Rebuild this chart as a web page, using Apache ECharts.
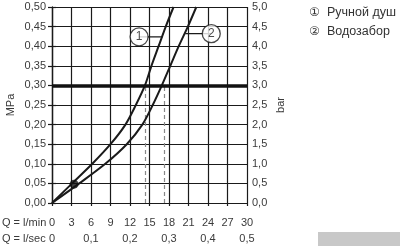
<!DOCTYPE html>
<html><head><meta charset="utf-8">
<script src="https://cdn.jsdelivr.net/npm/echarts@6/dist/echarts.min.js"></script>
<style>html,body{margin:0;padding:0;background:#fff}#c{width:400px;height:246px}</style>
</head><body><div id="c"></div>
<script>
// ---- data ----
const pressureLevels = [0, 0.05, 0.10, 0.15, 0.20, 0.25, 0.30, 0.35, 0.40, 0.45, 0.50];
const curve1Flow = [0, 3.1, 6.2, 9.0, 11.3, 12.9, 14.3, 15.3, 16.4, 17.5, 18.7];
const curve2Flow = [0, 4.2, 8.2, 11.5, 13.9, 15.5, 16.9, 18.2, 19.5, 20.9, 22.2];
const referencePressure = 0.30;
const referenceFlows = [14.4, 17.2];
const markerPoint = [3.4, 0.048];
const curveTags = ['1', '2'];
const tagFlows = [13.4, 24.5];
const tagPressures = [0.424, 0.432];
const leaderFlows = [17.0, 20.5];
const legendSymbols = ['①', '②'];
const legendItems = ['Ручной душ', 'Водозабор'];
const rowTitles = ['Q = l/min', 'Q = l/sec'];

const FONT = 'Liberation Sans';
const TXT = '#3a3a3a';
const LINE = '#1a1a1a';
const comma = (v, d) => v.toFixed(d).replace('.', ',');

const chart = echarts.init(document.getElementById('c'), null, {renderer: 'canvas'});

const series = [
  {
    type: 'line', xAxisIndex: 0, yAxisIndex: 0, smooth: 0.3, symbol: 'none', z: 3,
    lineStyle: {color: LINE, width: 2},
    data: curve1Flow.map((q, i) => [q, pressureLevels[i]]),
    markLine: {
      silent: true, symbol: 'none', label: {show: false}, z: 2,
      lineStyle: {color: '#888', width: 1.2, type: [4, 3]},
      data: referenceFlows.map(q => [{coord: [q, 0]}, {coord: [q, referencePressure]}])
    }
  },
  {
    type: 'line', xAxisIndex: 0, yAxisIndex: 0, smooth: 0.3, symbol: 'none', z: 3,
    lineStyle: {color: LINE, width: 2},
    data: curve2Flow.map((q, i) => [q, pressureLevels[i]]),
    markLine: {
      silent: true, symbol: 'none', label: {show: false}, z: 4,
      lineStyle: {color: '#111', width: 3.5, type: 'solid'},
      data: [{yAxis: referencePressure}]
    }
  }
];
// leader lines
tagFlows.forEach((q, i) => {
  series.push({
    type: 'line', xAxisIndex: 0, yAxisIndex: 0, symbol: 'none', z: 3,
    lineStyle: {color: LINE, width: 1.2},
    data: [[q, tagPressures[i]], [leaderFlows[i], tagPressures[i]]]
  });
});
// tag circles
series.push({
  type: 'scatter', xAxisIndex: 0, yAxisIndex: 0, symbol: 'circle', symbolSize: 18, z: 6,
  itemStyle: {color: '#fff', borderColor: LINE, borderWidth: 1.3},
  label: {show: true, position: 'inside', formatter: p => curveTags[p.dataIndex],
          color: '#222', fontSize: 12, fontFamily: FONT},
  data: tagFlows.map((q, i) => [q, tagPressures[i]])
});
// marker dot
series.push({
  type: 'scatter', xAxisIndex: 0, yAxisIndex: 0, symbol: 'circle', symbolSize: 9, z: 6,
  itemStyle: {color: '#111'},
  data: [markerPoint]
});

const graphics = [];
legendItems.forEach((t, i) => {
  graphics.push({type: 'text', left: 309, top: 7 + i * 19,
    style: {text: legendSymbols[i], font: '12px DejaVu Sans', fill: '#333'}});
  graphics.push({type: 'text', left: 327, top: 6 + i * 19,
    style: {text: t, font: '12.5px ' + FONT, fill: '#333'}});
});
rowTitles.forEach((t, i) => {
  graphics.push({type: 'text', left: 2, top: 217 + i * 16,
    style: {text: t, font: '11px ' + FONT, fill: TXT}});
});
graphics.push({type: 'rect', right: 0, bottom: 0, shape: {width: 82, height: 14},
  style: {fill: '#c8c8c8'}});

chart.setOption({
  animation: false,
  backgroundColor: '#fff',
  grid: {left: 52, top: 7, width: 195, height: 196},
  xAxis: [
    {type: 'value', min: 0, max: 30, interval: 3, position: 'bottom',
     axisLine: {show: true, onZero: false, lineStyle: {color: LINE, width: 1.2}},
     axisTick: {show: true, length: 3, lineStyle: {color: LINE, width: 1.2}},
     splitLine: {show: true, lineStyle: {color: LINE, width: 1.2}},
     axisLabel: {margin: 14, fontSize: 11, fontFamily: FONT, color: TXT}},
    {type: 'value', min: 0, max: 30, interval: 6, position: 'bottom', offset: 16,
     axisLine: {show: false}, axisTick: {show: false}, splitLine: {show: false},
     axisLabel: {margin: 14, fontSize: 11, fontFamily: FONT, color: TXT,
                 formatter: v => v === 0 ? '0' : comma(v / 60, 1)}}
  ],
  yAxis: [
    {type: 'value', min: 0, max: 0.5, interval: 0.05, position: 'left',
     name: 'MPa', nameLocation: 'middle', nameRotate: 90, nameGap: 36,
     nameTextStyle: {fontSize: 11, fontFamily: FONT, color: TXT},
     axisLine: {show: true, lineStyle: {color: LINE, width: 1.2}},
     axisTick: {show: true, length: 4, lineStyle: {color: LINE, width: 1.2}},
     splitLine: {show: true, lineStyle: {color: LINE, width: 1.2}},
     axisLabel: {margin: 6, fontSize: 11, fontFamily: FONT, color: TXT, formatter: v => comma(v, 2)}},
    {type: 'value', min: 0, max: 5, interval: 0.5, position: 'right',
     name: 'bar', nameLocation: 'middle', nameRotate: 90, nameGap: 28,
     nameTextStyle: {fontSize: 11, fontFamily: FONT, color: TXT},
     axisLine: {show: true, lineStyle: {color: LINE, width: 1.2}},
     axisTick: {show: true, length: 4, lineStyle: {color: LINE, width: 1.2}},
     splitLine: {show: false},
     axisLabel: {margin: 5, fontSize: 11, fontFamily: FONT, color: TXT, formatter: v => comma(v, 1)}}
  ],
  graphic: graphics,
  series: series
});
</script></body></html>
